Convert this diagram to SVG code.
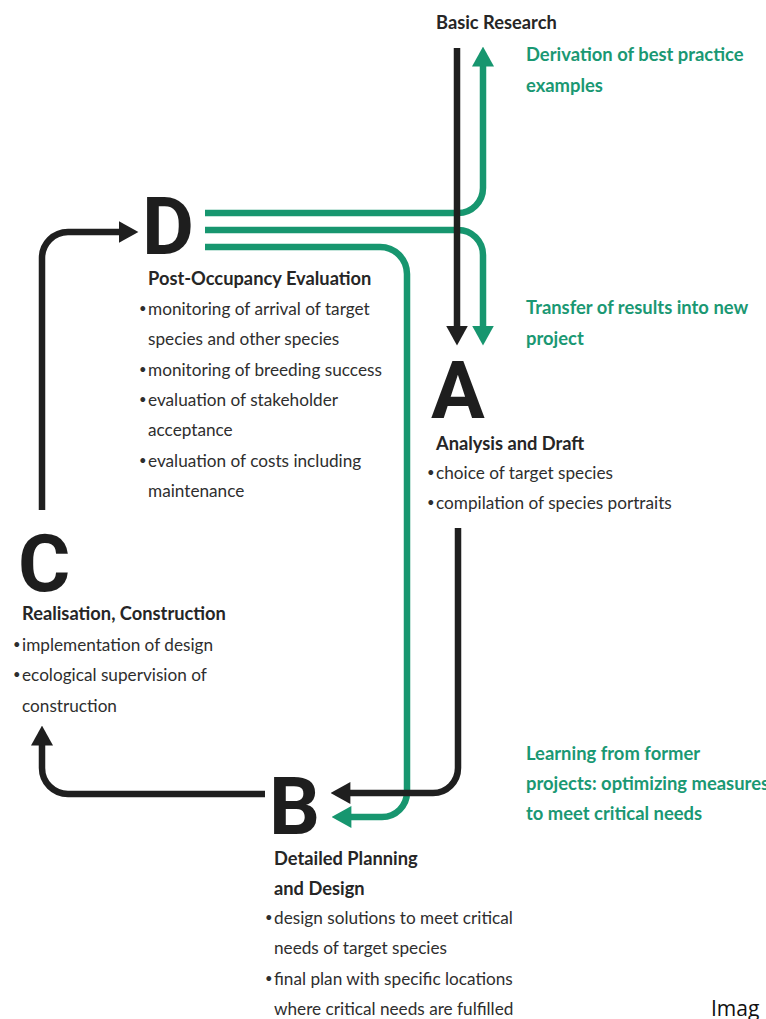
<svg xmlns="http://www.w3.org/2000/svg" width="766" height="1019" viewBox="0 0 766 1019">
<style>
.big{font-family:Roboto,"Liberation Sans",sans-serif;font-weight:700;font-size:80px;fill:#1e1e1e}
.hd{font-family:Lato,"Liberation Sans",sans-serif;font-weight:700;font-size:18.3px;fill:#262626}
.tx{font-family:Lato,"Liberation Sans",sans-serif;font-size:17.2px;fill:#2e2e2e}
.bul{font-family:Lato,"Liberation Sans",sans-serif;font-size:13px;fill:#2e2e2e}
.gt{font-family:Lato,"Liberation Sans",sans-serif;font-weight:700;font-size:18.4px;fill:#1a9873}
.blk{fill:none;stroke:#1f1f1f;stroke-width:6.5}
.grn{fill:none;stroke:#17966f;stroke-width:6.5}
</style>
<defs>
<marker id="ab" markerUnits="userSpaceOnUse" markerWidth="20" markerHeight="22" viewBox="0 0 18 20" refX="4" refY="10" orient="auto"><path d="M0,0 L18,10 L0,20 Z" fill="#1f1f1f"/></marker>
<marker id="ag" markerUnits="userSpaceOnUse" markerWidth="20" markerHeight="22" viewBox="0 0 18 20" refX="4" refY="10" orient="auto"><path d="M0,0 L18,10 L0,20 Z" fill="#17966f"/></marker>
</defs>
<rect width="766" height="1019" fill="#fff"/>
<g id="connectors">
<path class="grn" d="M205,213 H458 A25,25 0 0 0 483,188 V62" marker-end="url(#ag)"/>
<path class="grn" d="M205,230 H458 A25,25 0 0 1 483,255 V330" marker-end="url(#ag)"/>
<path class="grn" d="M205,247 H380 A27,27 0 0 1 407,274 V792 A25,25 0 0 1 382,817 H347" marker-end="url(#ag)"/>
<path class="blk" d="M457,48 V330" marker-end="url(#ab)"/>
<path class="blk" d="M458,528 V768 A25,25 0 0 1 433,793 H346" marker-end="url(#ab)"/>
<path class="blk" d="M265,794 H68 A26,26 0 0 1 42,768 V741" marker-end="url(#ab)"/>
<path class="blk" d="M42,510 V258 A26,26 0 0 1 68,232 H123" marker-end="url(#ab)"/>
</g>
<g id="basic-research">
<text class="hd" x="436" y="29">Basic Research</text>
</g>
<g id="label-derivation">
<text class="gt" x="526" y="61">Derivation of best practice</text>
<text class="gt" x="526" y="92">examples</text>
</g>
<g id="label-transfer">
<text class="gt" x="526" y="314">Transfer of results into new</text>
<text class="gt" x="526" y="345">project</text>
</g>
<g id="label-learning">
<text class="gt" x="526" y="760">Learning from former</text>
<text class="gt" x="526" y="790">projects: optimizing measures</text>
<text class="gt" x="526" y="820">to meet critical needs</text>
</g>
<g id="node-D">
<text class="big" x="142" y="254">D</text>
<text class="hd" x="148" y="285">Post-Occupancy Evaluation</text>
<text class="bul" x="139" y="313">•</text><text class="tx" x="148" y="315">monitoring of arrival of target</text>
<text class="tx" x="148" y="345">species and other species</text>
<text class="bul" x="139" y="374">•</text><text class="tx" x="148" y="376">monitoring of breeding success</text>
<text class="bul" x="139" y="404">•</text><text class="tx" x="148" y="406">evaluation of stakeholder</text>
<text class="tx" x="148" y="436">acceptance</text>
<text class="bul" x="139" y="465">•</text><text class="tx" x="148" y="467">evaluation of costs including</text>
<text class="tx" x="148" y="497">maintenance</text>
</g>
<g id="node-A">
<text class="big" x="431" y="418">A</text>
<text class="hd" x="436" y="450">Analysis and Draft</text>
<text class="bul" x="427" y="477">•</text><text class="tx" x="436" y="479">choice of target species</text>
<text class="bul" x="427" y="507">•</text><text class="tx" x="436" y="509">compilation of species portraits</text>
</g>
<g id="node-C">
<text class="big" x="18" y="591">C</text>
<text class="hd" x="22" y="620">Realisation, Construction</text>
<text class="bul" x="13" y="649">•</text><text class="tx" x="22" y="651">implementation of design</text>
<text class="bul" x="13" y="679">•</text><text class="tx" x="22" y="681">ecological supervision of</text>
<text class="tx" x="22" y="712">construction</text>
</g>
<g id="node-B">
<text class="big" x="269" y="834">B</text>
<text class="hd" x="274" y="865">Detailed Planning</text>
<text class="hd" x="274" y="895">and Design</text>
<text class="bul" x="265" y="922">•</text><text class="tx" x="274" y="924">design solutions to meet critical</text>
<text class="tx" x="274" y="954">needs of target species</text>
<text class="bul" x="265" y="983">•</text><text class="tx" x="274" y="985">final plan with specific locations</text>
<text class="tx" x="274" y="1015">where critical needs are fulfilled</text>
</g>
<text x="711" y="1016" font-family="'Open Sans','Liberation Sans',sans-serif" font-size="21" fill="#111">Imag</text>
</svg>
